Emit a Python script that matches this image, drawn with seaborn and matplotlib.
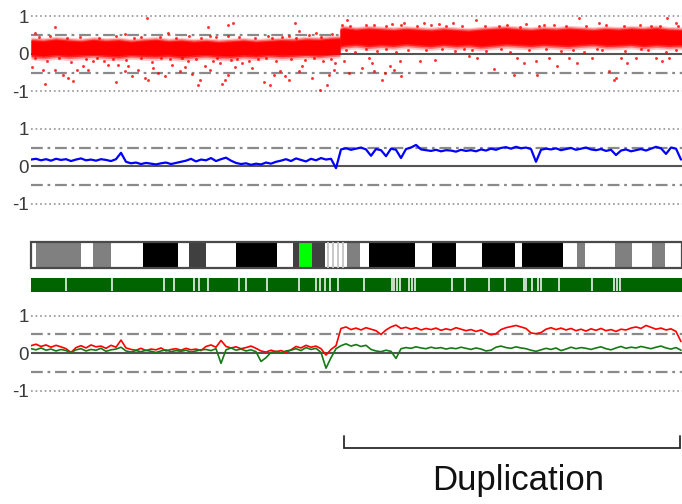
import numpy as np
import pandas as pd
import matplotlib
matplotlib.use("Agg")
import matplotlib.pyplot as plt
from matplotlib.patches import Rectangle
from matplotlib.transforms import blended_transform_factory
import seaborn as sns

sns.set_style("white")
plt.rcParams["font.family"] = ["Liberation Sans", "DejaVu Sans"]
plt.rcParams["lines.scale_dashes"] = False

# ---------------------------------------------------------------- data
CHROM_LEN = 130.2          # Mb
DUP_START, DUP_END = 62.6, 129.8
DUP_LABEL_X = 97.4
DUP_LABEL = "Duplication"

# probe log2-ratio cloud: dense core limits per segment
CORE_LEFT_POS = [0, 2.5, 5, 7.5, 10, 12.5, 15, 17.5, 20, 22.5, 25, 27.5,
                 30, 32.5, 35, 37.5, 40, 42.5, 45, 47.5, 50, 52.5, 55,
                 57.5, 60, 61.8]
CORE_LEFT_LO = [-0.02, -0.05, -0.01, -0.04, -0.02, 0.00, -0.03, -0.05,
                -0.01, -0.03, -0.04, -0.02, -0.06, -0.03, -0.01, -0.04,
                -0.05, -0.02, -0.04, -0.01, -0.03, -0.02, 0.00, -0.02,
                0.01, 0.03]
CORE_LEFT_HI = [0.35, 0.33, 0.37, 0.34, 0.32, 0.36, 0.33, 0.35, 0.31,
                0.34, 0.36, 0.32, 0.34, 0.31, 0.33, 0.30, 0.32, 0.34,
                0.31, 0.33, 0.35, 0.34, 0.37, 0.36, 0.39, 0.40]
CORE_RIGHT_POS = [61.8, 62.5, 65, 67.5, 70, 72.5, 75, 77.5, 80, 82.5, 85,
                  87.5, 90, 92.5, 95, 97.5, 100, 102.5, 105, 107.5, 110,
                  112.5, 115, 117.5, 120, 122.5, 125, 127.5, 130, 130.2]
CORE_RIGHT_LO = [0.22, 0.24, 0.27, 0.23, 0.26, 0.24, 0.28, 0.25, 0.23,
                 0.27, 0.24, 0.26, 0.22, 0.25, 0.28, 0.26, 0.24, 0.27,
                 0.25, 0.23, 0.26, 0.28, 0.24, 0.25, 0.27, 0.23, 0.26,
                 0.24, 0.25, 0.24]
CORE_RIGHT_HI = [0.64, 0.67, 0.63, 0.66, 0.64, 0.62, 0.65, 0.63, 0.61,
                 0.64, 0.62, 0.60, 0.63, 0.65, 0.67, 0.64, 0.62, 0.65,
                 0.63, 0.66, 0.64, 0.62, 0.65, 0.63, 0.66, 0.64, 0.67,
                 0.63, 0.62, 0.61]

# scattered probes away from the core
OUTLIER_POS = [23.1, 4.7, 35.4, 39.3, 40.4, 0.7, 18.7, 27.4, 39.4, 35.7,
               0.1, 2.4, 4.7, 2.7, 6.4, 7.4, 8.4, 9.1, 10.4, 11.4, 12.4,
               15.4, 16.9, 17.4, 18.7, 19.4, 20.1, 21.4, 22.7, 23.4, 24.4,
               25.4, 26.7, 28.1, 29.7, 30.7, 32.1, 33.4, 33.7, 34.7, 35.7,
               37.7, 38.1, 38.7, 39.4, 40.7, 42.1,
               52.8, 62.1, 63.1, 53.5, 48.1, 51.5, 68.5, 72.1, 74.5, 78.5,
               81.5, 84.3, 44.1, 46.5, 47.8, 48.5, 49.8, 50.8, 51.5, 53.5,
               54.1, 56.1, 57.8, 59.1, 59.5, 60.5, 60.8, 62.5, 63.5, 66.1,
               67.5, 68.1, 68.5, 70.1, 70.8, 71.8, 72.5, 73.8, 74.0, 77.8,
               80.8,
               88.9, 109.5, 113.5, 127.2, 128.9, 102.5, 98.9, 93.5, 87.5,
               89.2, 92.5, 96.5, 97.2, 98.5, 100.9, 101.1, 103.5, 105.2,
               107.5, 109.2, 112.2, 115.5, 116.5, 116.9, 117.9, 119.2,
               120.9, 124.9, 126.2, 127.5,
               1.5, 3.8, 7.2, 9.8, 13.5, 17.0, 20.5, 22.0, 25.8, 29.0,
               31.5, 34.0, 37.0, 41.5, 44.8, 47.3, 50.2, 53.0, 55.5, 58.0,
               60.2, 57.0,
               0.8, 3.1, 5.6, 8.0, 10.9, 13.2, 14.6, 16.3, 19.0, 21.9,
               24.1, 26.0, 27.8, 30.2, 31.4, 33.0, 36.3, 37.2, 39.9, 41.2,
               43.5, 45.4, 47.0, 49.0, 52.0, 54.8, 56.6, 58.4, 60.0,
               63.8, 66.9, 70.9, 74.0, 77.2, 79.9, 83.0, 86.1, 90.8, 95.1,
               97.8, 101.5, 104.6, 107.0, 111.0, 114.9, 118.5, 121.7,
               124.0, 125.8, 129.3,
               62.9, 64.8, 67.0, 69.2, 71.0, 73.0, 75.3, 78.9, 82.2, 84.8,
               86.5, 88.2, 91.0, 94.0, 95.8, 99.6, 102.9, 106.0, 108.4,
               110.6, 113.1, 114.2, 118.7, 121.9, 123.3, 126.9, 129.0]
OUTLIER_VAL = [0.95, 0.71, 0.71, 0.76, 0.82, 0.55, 0.54, 0.55, 0.47, 0.47,
               -0.36, -0.42, -0.42, -0.80, -0.56, -0.65, -0.72, -0.42,
               -0.33, -0.42, -0.20, -0.31, -0.75, -0.29, -0.47, -0.33,
               -0.60, -0.42, -0.65, -0.69, -0.38, -0.51, -0.60, -0.29,
               -0.47, -0.36, -0.54, -0.84, -0.69, -0.33, -0.42, -0.25,
               -0.80, -0.69, -0.56, -0.36, -0.25,
               0.82, 0.78, 0.89, 0.60, 0.42, 0.47, 0.78, 0.79, 0.82, 0.82,
               0.79, 0.82, -0.38, -0.75, -0.82, -0.56, -0.45, -0.60, -0.69,
               -0.47, -0.33, -0.65, -0.96, -0.84, -0.56, -0.42, -0.25,
               -0.20, -0.51, -0.38, -0.11, -0.25, -0.47, -0.69, -0.51,
               -0.33, -0.42, -0.20, -0.60, -0.20, -0.16,
               0.91, 0.95, 0.82, 0.95, 0.82, 0.78, 0.79, 0.73, -0.07,
               -0.11, -0.41, -0.56, -0.11, -0.25, -0.20, -0.56, -0.11,
               -0.33, -0.11, -0.25, -0.11, -0.47, -0.69, -0.65, -0.11,
               -0.25, -0.11, -0.11, -0.20, -0.11,
               0.44, 0.48, 0.42, 0.46, 0.43, 0.47, 0.41, 0.45, 0.44, 0.42,
               0.48, 0.43, 0.46, 0.44, 0.42, 0.47, 0.45, 0.43, 0.49, 0.46,
               0.52, 0.55,
               -0.12, -0.18, -0.10, -0.22, -0.14, -0.11, -0.19, -0.13,
               -0.16, -0.12, -0.21, -0.10, -0.15, -0.12, -0.20, -0.14,
               -0.18, -0.11, -0.16, -0.13, -0.20, -0.15, -0.12, -0.18,
               -0.13, -0.17, -0.11, -0.20, -0.15,
               0.74, 0.78, 0.73, 0.76, 0.74, 0.77, 0.73, 0.75, 0.74, 0.77,
               0.72, 0.75, 0.78, 0.74, 0.73, 0.76, 0.74, 0.77, 0.73, 0.75,
               0.74,
               0.10, 0.06, 0.12, 0.08, 0.13, 0.05, 0.11, 0.09, 0.12, 0.07,
               0.13, 0.10, 0.08, 0.12, 0.06, 0.10, 0.13, 0.08, 0.11, 0.05,
               0.12, 0.09, 0.07, 0.12, 0.09, 0.06, 0.11]

# smoothed profiles, one value per Mb (0 .. 130)
SMOOTH_POS = list(range(0, 131))
BLUE_PROFILE = [
    0.18, 0.20, 0.16, 0.19, 0.15, 0.20, 0.17, 0.19, 0.14, 0.18,
    0.21, 0.16, 0.18, 0.15, 0.19, 0.17, 0.14, 0.19, 0.36, 0.12,
    0.08, 0.10, 0.06, 0.09, 0.07, 0.05, 0.08, 0.10, 0.06, 0.09,
    0.12, 0.15, 0.20, 0.13, 0.18, 0.16, 0.22, 0.14, 0.19, 0.23,
    0.15, 0.09, 0.06, 0.08, 0.04, 0.07, 0.05, 0.10, 0.07, 0.12,
    0.15, 0.19, 0.14, 0.21, 0.17, 0.13, 0.20, 0.16, 0.22, 0.18,
    0.20, -0.05, 0.45, 0.48, 0.44, 0.47, 0.50, 0.45, 0.28, 0.46,
    0.43, 0.27, 0.47, 0.44, 0.22, 0.46, 0.50, 0.57, 0.45, 0.43,
    0.41, 0.44, 0.40, 0.43, 0.42, 0.39, 0.44, 0.41, 0.43, 0.40,
    0.45, 0.42, 0.47, 0.44, 0.49, 0.51, 0.47, 0.52, 0.48, 0.50,
    0.46, 0.12, 0.44, 0.47, 0.45, 0.48, 0.43, 0.46, 0.49, 0.44,
    0.47, 0.50, 0.45, 0.43, 0.46, 0.41, 0.44, 0.30, 0.42, 0.45,
    0.40, 0.43, 0.46, 0.42, 0.47, 0.52, 0.48, 0.33, 0.50, 0.47,
    0.18]
RED_PROFILE = [
    0.20, 0.24, 0.18, 0.22, 0.16, 0.21, 0.17, 0.12, 0.02, 0.15,
    0.20, 0.14, 0.22, 0.17, 0.19, 0.13, 0.21, 0.16, 0.35, 0.14,
    0.10, 0.08, 0.13, 0.07, 0.11, 0.09, 0.14, 0.06, 0.10, 0.12,
    0.08, 0.13, 0.09, 0.11, 0.07, 0.18, 0.22, 0.16, 0.34, 0.18,
    0.14, 0.17, 0.12, 0.15, 0.19, 0.13, 0.06, 0.03, 0.08, 0.04,
    0.07, 0.02, 0.09, 0.18, 0.14, 0.21, 0.16, 0.19, 0.12, -0.05,
    0.10, 0.20, 0.66, 0.70, 0.63, 0.67, 0.62, 0.68, 0.64, 0.60,
    0.50, 0.62, 0.70, 0.75, 0.66, 0.69, 0.64, 0.68, 0.62, 0.66,
    0.63, 0.67, 0.61, 0.65, 0.62, 0.68, 0.64, 0.60, 0.63, 0.58,
    0.62, 0.55, 0.49, 0.52, 0.63, 0.68, 0.71, 0.74, 0.70, 0.66,
    0.54, 0.52, 0.55, 0.64, 0.68, 0.63, 0.67, 0.62, 0.66, 0.60,
    0.64, 0.59, 0.65, 0.61, 0.66, 0.60, 0.63, 0.58, 0.64, 0.62,
    0.67, 0.70, 0.66, 0.74, 0.69, 0.64, 0.67, 0.62, 0.65, 0.58,
    0.31]
GREEN_PROFILE = [
    0.12, 0.09, 0.14, 0.08, 0.11, 0.06, 0.10, 0.07, 0.02, 0.09,
    0.12, 0.06, 0.10, 0.08, 0.13, 0.05, 0.09, 0.11, 0.16, 0.06,
    0.03, 0.07, 0.04, 0.08, 0.05, 0.02, 0.06, 0.09, 0.04, 0.07,
    0.05, 0.08, 0.03, 0.06, 0.09, 0.10, 0.07, 0.12, -0.27, 0.09,
    0.14, 0.08, 0.11, 0.06, 0.09, 0.04, -0.22, -0.12, 0.02, 0.05,
    0.01, 0.06, 0.08, 0.12, 0.07, 0.15, 0.10, 0.13, 0.02, -0.40,
    -0.12, 0.12, 0.20, 0.25, 0.19, 0.23, 0.18, 0.21, 0.10, 0.06,
    0.04, 0.08, 0.05, -0.14, 0.12, 0.15, 0.13, 0.17, 0.14, 0.12,
    0.16, 0.13, 0.15, 0.11, 0.14, 0.12, 0.16, 0.13, 0.10, 0.14,
    0.11, 0.06, 0.08, 0.16, 0.19, 0.15, 0.13, 0.17, 0.14, 0.12,
    0.08, 0.05, 0.09, 0.13, 0.10, 0.14, 0.07, 0.11, 0.16, 0.12,
    0.15, 0.13, 0.10, 0.14, 0.17, 0.12, 0.09, 0.14, 0.18, 0.13,
    0.16, 0.14, 0.18, 0.15, 0.12, 0.16, 0.19, 0.14, 0.11, 0.15,
    0.08]

# cytoband ideogram: (start Mb, end Mb, stain)
BAND_START = [0.0, 1.0, 10.0, 12.4, 16.0, 22.4, 29.4, 31.6, 35.0, 41.0,
              49.2, 52.4, 53.6, 56.2, 58.8, 63.2, 65.8, 67.6, 76.8, 80.2,
              85.0, 90.2, 96.8, 98.2, 106.4, 109.2, 110.8, 116.8, 120.2,
              124.2, 126.8]
BAND_END = [1.0, 10.0, 12.4, 16.0, 22.4, 29.4, 31.6, 35.0, 41.0, 49.2,
            52.4, 53.6, 56.2, 58.8, 63.2, 65.8, 67.6, 76.8, 80.2, 85.0,
            90.2, 96.8, 98.2, 106.4, 109.2, 110.8, 116.8, 120.2, 124.2,
            126.8, 130.2]
BAND_STAIN = ["gneg", "gpos50", "gneg", "gpos50", "gneg", "gpos100", "gneg",
              "gpos75", "gneg", "gpos100", "gneg", "gpos75", "acen",
              "gpos75", "gvar", "gpos50", "gneg", "gpos100", "gneg",
              "gpos100", "gneg", "gpos100", "gneg", "gpos100", "gneg",
              "gpos50", "gneg", "gpos50", "gneg", "gpos50", "gneg"]
STALK_LINES = [59.4, 60.4, 61.4, 62.4]

# boundaries between called segments
SEGMENT_BREAKS = [6.9, 16.1, 26.5, 28.6, 32.5, 33.6, 35.3, 41.5, 42.9, 47.1,
                  53.5, 57.0, 57.8, 58.8, 59.8, 61.3, 66.5, 72.1, 72.6,
                  73.1, 73.8, 75.5, 76.1, 76.8, 84.1, 86.8, 91.5, 94.8,
                  98.5, 99.0, 100.1, 101.3, 101.9, 105.5, 112.1, 116.5,
                  117.1, 117.8]

# ---------------------------------------------------------------- style
RED = "#ff0000"
BLUE = "#0000ff"
GREEN = "#157a15"
SEG_GREEN = "#006400"
STAIN_COLORS = {"gneg": "#ffffff", "gpos50": "#808080", "gpos75": "#404040",
                "gpos100": "#000000", "acen": "#00ff00", "gvar": "#ffffff"}

W_PX, H_PX = 682, 504
fig = plt.figure(figsize=(W_PX / 100, H_PX / 100), dpi=100)
LEFT = 31 / W_PX
WIDTH = 1 - LEFT


def panel_axes(zero_px):
    half = 45
    return fig.add_axes([LEFT, 1 - (zero_px + half) / H_PX, WIDTH,
                         2 * half / H_PX])


def style_panel(ax):
    ax.set_xlim(0, CHROM_LEN)
    ax.set_ylim(-1.2, 1.2)
    ax.set_yticks([-1, 0, 1])
    ax.set_yticklabels(["-1", "0", "1"])
    ax.tick_params(axis="y", length=0, pad=1.5, labelsize=13.5,
                   labelcolor="#3a3a3a")
    ax.set_xticks([])
    ax.set_xlabel("")
    ax.set_ylabel("")
    sns.despine(ax=ax, left=True, bottom=True)
    ax.set_facecolor("none")


def reference_lines(ax):
    for y in (-1, 1):
        ax.axhline(y, color="#8a8a8a", lw=1.1, ls=(0, (1.2, 2.1)),
                   dash_capstyle="butt", zorder=0)
    for y in (-0.5, 0.5):
        ax.axhline(y, color="#8a8a8a", lw=1.6, ls=(0, (8.5, 3.4, 2.0, 3.4)),
                   dash_capstyle="butt", zorder=0)
    ax.axhline(0, color="#555555", lw=1.5, zorder=0.5)


# panel 1: raw probe ratios
ax1 = panel_axes(53.8)
reference_lines(ax1)
HALO = [(0.14, 0.10, 0.22), (0.09, 0.065, 0.42), (0.045, 0.03, 0.7)]
for pos, lo, hi in ((CORE_LEFT_POS, CORE_LEFT_LO, CORE_LEFT_HI),
                    (CORE_RIGHT_POS, CORE_RIGHT_LO, CORE_RIGHT_HI)):
    lo = np.asarray(lo)
    hi = np.asarray(hi)
    for pad_lo, pad_hi, a in HALO:
        ax1.fill_between(pos, lo - pad_lo, hi + pad_hi, color=RED, alpha=a,
                         lw=0, zorder=1)
    ax1.fill_between(pos, lo, hi, color=RED, lw=0, zorder=1)
sns.scatterplot(x=OUTLIER_POS, y=OUTLIER_VAL, ax=ax1, color=RED, s=4.5,
                linewidth=0, alpha=0.8, zorder=2, legend=False)
style_panel(ax1)

# panel 2: smoothed ratio
ax2 = panel_axes(166.3)
reference_lines(ax2)
sns.lineplot(x=SMOOTH_POS, y=BLUE_PROFILE, ax=ax2, color=BLUE, lw=1.6,
             estimator=None, zorder=2)
style_panel(ax2)

# panel 3: two-channel smoothed profiles
ax3 = panel_axes(353.2)
reference_lines(ax3)
sns.lineplot(x=SMOOTH_POS, y=RED_PROFILE, ax=ax3, color=RED, lw=1.2,
             estimator=None, zorder=2)
sns.lineplot(x=SMOOTH_POS, y=GREEN_PROFILE, ax=ax3, color=GREEN, lw=1.2,
             estimator=None, zorder=2)
style_panel(ax3)

# ideogram
axi = fig.add_axes([LEFT, 1 - 268 / H_PX, WIDTH, 26 / H_PX])
axi.set_xlim(0, CHROM_LEN)
axi.set_ylim(0, 1)
for s, e, stain in zip(BAND_START, BAND_END, BAND_STAIN):
    axi.add_patch(Rectangle((s, 0), e - s, 1, facecolor=STAIN_COLORS[stain],
                            edgecolor="none"))
for x in STALK_LINES:
    axi.axvline(x, color="#c4c4c4", lw=1.3)
axi.add_patch(Rectangle((0, 0), CHROM_LEN, 1, fill=False,
                        edgecolor="#4a4a4a", lw=1.6, clip_on=False))
axi.axis("off")

# segmentation bar
axs = fig.add_axes([LEFT, 1 - 291 / H_PX, WIDTH, 13 / H_PX])
axs.set_xlim(0, CHROM_LEN)
axs.set_ylim(0, 1)
axs.broken_barh([(0, CHROM_LEN)], (0, 1), color=SEG_GREEN)
for x in SEGMENT_BREAKS:
    axs.axvline(x, color="white", lw=1.1)
axs.axis("off")

# duplication bracket
tr = blended_transform_factory(ax3.transData, fig.transFigure)
y_bar = 1 - 447.7 / H_PX
y_top = 1 - 436 / H_PX
ax3.plot([DUP_START, DUP_START, DUP_END, DUP_END],
         [y_top, y_bar, y_bar, y_top], transform=tr, color="#2b2b2b",
         lw=1.3, clip_on=False, solid_joinstyle="miter")
ax3.text(DUP_LABEL_X, 1 - 490 / H_PX, DUP_LABEL, transform=tr,
         ha="center", va="baseline", fontsize=25, color="#111111")

fig.savefig("out.png", dpi=100)
